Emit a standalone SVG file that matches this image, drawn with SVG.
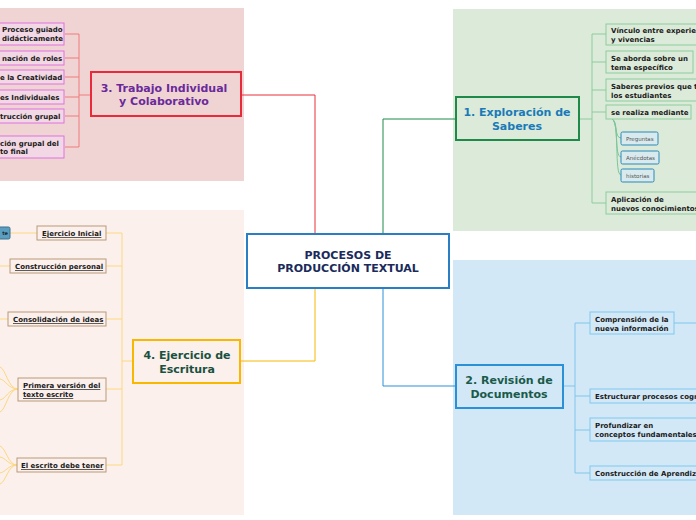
<svg xmlns="http://www.w3.org/2000/svg" width="696" height="520" viewBox="0 0 696 520">
<style>
text{font-family:"DejaVu Sans","Liberation Sans",sans-serif;font-weight:bold}
.main{font-size:11px;text-anchor:middle}
.ch{font-size:7px;fill:#1a1a1a}
.chu{font-size:7px;fill:#1a1a1a;text-decoration:underline}
.sm{font-size:5.5px;font-weight:normal;fill:#555}
.c{fill:none;stroke-width:1}
</style>
<rect x="0" y="8" width="244" height="173" fill="#f0d4d4"/>
<rect x="453" y="9" width="243" height="222" fill="#dcebd9"/>
<rect x="0" y="210" width="244" height="305" fill="#fbf0ec"/>
<rect x="453" y="260" width="243" height="255" fill="#d2e8f6"/>
<g id="connectors">
<path class="c" stroke="#e8303a" d="M315,234 V95 H241"/>
<path class="c" stroke="#1e8a4a" d="M383,234 V119 H455"/>
<path class="c" stroke="#f8b800" d="M315,288 V361 H241"/>
<path class="c" stroke="#2a90d8" d="M383,288 V386 H455"/>
<path class="c" stroke="#f07a7a" d="M90,95 H79 M79,34 V147 M79,34 H65 M79,58 H65 M79,77 H65 M79,97 H65 M79,116 H65 M79,147 H65"/>
<path class="c" stroke="#8ccc9c" d="M579,119 H592 M592,34 V203 M592,34 H606 M592,62 H606 M592,90 H606 M592,112 H606 M592,203 H606"/>
<path class="c" stroke="#7cc49a" d="M612,119 C618,121 614,138 621,138 M612,119 C619,122 614,157 621,157 M612,119 C620,123 614,175 621,175"/>
<path class="c" stroke="#80c4ec" d="M563,386 H575 M575,323 V473 M575,323 H590 M575,396 H590 M575,430 H590 M575,473 H590 M674,323 H696"/>
<path class="c" stroke="#fcd880" d="M133,361 H122 M122,233 V465 M122,233 H106 M122,266 H106 M122,319 H106 M122,389 H106 M122,465 H106 M37,233 H10 M10,266 H0 M8,319 H0"/>
<path class="c" stroke="#fcd880" d="M18,389 C8,389 6,369 0,367 M18,389 C8,389 6,380 0,379 M18,389 C8,389 6,399 0,400 M18,389 C8,389 6,410 0,412 M17,465 C8,465 6,448 0,446 M17,465 C8,465 6,458 0,457 M17,465 C8,465 6,472 0,473 M17,465 C8,465 6,482 0,484"/>
</g>
<g id="central">
<rect x="247" y="234" width="202" height="54" fill="#fff" stroke="#2a7fc4" stroke-width="2"/>
<text class="main" x="348" y="259" fill="#1a2a5a">PROCESOS DE</text>
<text class="main" x="348" y="272" fill="#1a2a5a">PRODUCCIÓN TEXTUAL</text>
</g>
<g id="n3">
<rect x="91" y="72" width="150" height="44" fill="#f0d4d4" stroke="#e82a3a" stroke-width="2"/>
<text class="main" x="164" y="92" fill="#6a2a9a">3. Trabajo Individual</text>
<text class="main" x="164" y="105" fill="#6a2a9a">y Colaborativo</text>
</g>
<g id="n3c" fill="#f2d8e4" stroke="#e070e0">
<rect x="-10" y="23" width="74" height="22"/>
<text class="ch" x="2" y="32" stroke="none">Proceso guiado</text>
<text class="ch" x="2" y="41" stroke="none">didácticamente</text>
<rect x="-10" y="51" width="74" height="14"/>
<text class="ch" x="2" y="61" stroke="none">nación de roles</text>
<rect x="-10" y="70" width="74" height="14"/>
<text class="ch" x="0" y="80" stroke="none">e la Creatividad</text>
<rect x="-10" y="90" width="74" height="14"/>
<text class="ch" x="0" y="100" stroke="none">es Individuales</text>
<rect x="-10" y="109" width="74" height="14"/>
<text class="ch" x="0" y="119" stroke="none">trucción grupal</text>
<rect x="-10" y="136" width="74" height="22"/>
<text class="ch" x="0" y="146" stroke="none">ción grupal del</text>
<text class="ch" x="0" y="154" stroke="none">to final</text>
</g>
<g id="n1">
<rect x="456" y="97" width="123" height="43" fill="#dcebd9" stroke="#1e8a4a" stroke-width="2"/>
<text class="main" x="517" y="116" fill="#1a7ab8">1. Exploración de</text>
<text class="main" x="517" y="130" fill="#1a7ab8">Saberes</text>
</g>
<g id="n1c" fill="#dcebd9" stroke="#8ccc9c">
<rect x="606" y="24" width="100" height="21"/>
<text class="ch" x="611" y="33" stroke="none">Vínculo entre experien</text>
<text class="ch" x="611" y="42" stroke="none">y vivencias</text>
<rect x="606" y="51" width="87" height="22"/>
<text class="ch" x="611" y="61" stroke="none">Se aborda sobre un</text>
<text class="ch" x="611" y="70" stroke="none">tema específico</text>
<rect x="606" y="79" width="100" height="22"/>
<text class="ch" x="611" y="89" stroke="none">Saberes previos que t</text>
<text class="ch" x="611" y="98" stroke="none">los estudiantes</text>
<rect x="606" y="105" width="85" height="14"/>
<text class="ch" x="611" y="115" stroke="none">se realiza mediante</text>
<rect x="606" y="192" width="100" height="22"/>
<text class="ch" x="611" y="202" stroke="none">Aplicación de</text>
<text class="ch" x="611" y="211" stroke="none">nuevos conocimientos</text>
</g>
<g id="n1s" fill="#d8eaee" stroke="#2a88b8">
<rect x="621" y="132" width="37" height="13" rx="1.5"/>
<text class="sm" x="626" y="141" stroke="none">Preguntas</text>
<rect x="621" y="151" width="38" height="13" rx="1.5"/>
<text class="sm" x="626" y="160" stroke="none">Anécdotas</text>
<rect x="621" y="169" width="33" height="13" rx="1.5"/>
<text class="sm" x="626" y="178" stroke="none">historias</text>
</g>
<g id="n2">
<rect x="456" y="365" width="107" height="43" fill="#d2e8f6" stroke="#2a90d8" stroke-width="2"/>
<text class="main" x="509" y="384" fill="#1a5a4a">2. Revisión de</text>
<text class="main" x="509" y="398" fill="#1a5a4a">Documentos</text>
</g>
<g id="n2c" fill="#d2e8f6" stroke="#80c8f0">
<rect x="590" y="312" width="84" height="22"/>
<text class="ch" x="595" y="322" stroke="none">Comprensión de la</text>
<text class="ch" x="595" y="331" stroke="none">nueva información</text>
<rect x="590" y="389" width="110" height="14"/>
<text class="ch" x="595" y="399" stroke="none">Estructurar procesos cogn</text>
<rect x="590" y="418" width="110" height="23"/>
<text class="ch" x="595" y="428" stroke="none">Profundizar en</text>
<text class="ch" x="595" y="437" stroke="none">conceptos fundamentales</text>
<rect x="590" y="466" width="110" height="14"/>
<text class="ch" x="595" y="476" stroke="none">Construcción de Aprendiza</text>
</g>
<g id="n4">
<rect x="133" y="340" width="107" height="43" fill="#fbf0ec" stroke="#f8b800" stroke-width="2"/>
<text class="main" x="187" y="359" fill="#1a5040">4. Ejercicio de</text>
<text class="main" x="187" y="373" fill="#1a5040">Escritura</text>
</g>
<g id="n4c" fill="#fbf0ec" stroke="#b89a78">
<rect x="37" y="226" width="69" height="14"/>
<text class="chu" x="42" y="236" stroke="none">Ejercicio Inicial</text>
<rect x="10" y="259" width="96" height="14"/>
<text class="chu" x="15" y="269" stroke="none">Construcción personal</text>
<rect x="8" y="312" width="98" height="14"/>
<text class="chu" x="13" y="322" stroke="none">Consolidación de ideas</text>
<rect x="18" y="378" width="88" height="23"/>
<text class="chu" x="23" y="388" stroke="none">Primera versión del</text>
<text class="chu" x="23" y="397" stroke="none">texto escrito</text>
<rect x="17" y="458" width="89" height="14"/>
<text class="chu" x="21" y="468" stroke="none">El escrito debe tener</text>
</g>
<g id="n4s">
<rect x="-20" y="227" width="30" height="12" rx="1.5" fill="#5a9fc0" stroke="#3a7090"/>
<text x="8" y="235" style="font-size:5px;fill:#1a2a3a;text-anchor:end">te</text>
</g>
</svg>
